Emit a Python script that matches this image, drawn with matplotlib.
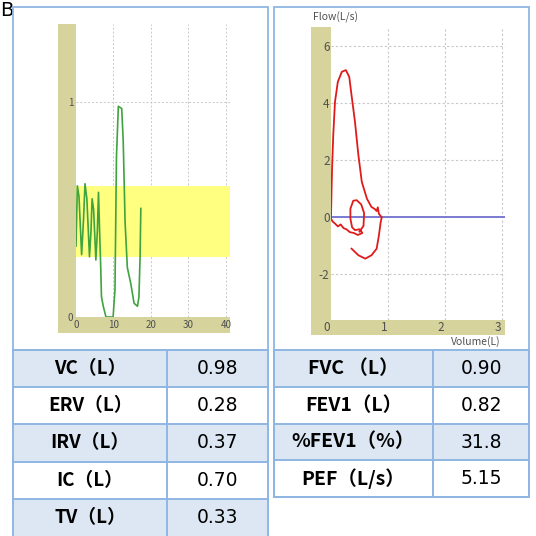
import matplotlib
matplotlib.use("Agg")
import matplotlib.pyplot as plt
from matplotlib.patches import Rectangle
from matplotlib.transforms import ScaledTranslation

# ---------------- data ----------------
# Volume-time trace (left chart)
vt_time = [0.0, 0.36, 0.8, 1.5, 2.0, 2.4, 2.9, 3.6, 4.0, 4.3, 4.7, 5.3, 5.7, 6.0, 6.3, 6.6, 6.8,
           7.3, 8.0, 9.0, 9.9, 10.4, 10.8, 11.3, 12.2, 12.6, 13.1, 13.7, 14.6, 15.5, 16.4, 16.8,
           17.1, 17.3]
vt_volume = [0.33, 0.61, 0.56, 0.29, 0.45, 0.62, 0.55, 0.28, 0.40, 0.55, 0.50, 0.265, 0.40, 0.58,
             0.40, 0.23, 0.094, 0.048, 0.0, 0.0, 0.0, 0.126, 0.745, 0.98, 0.97, 0.82, 0.44, 0.23,
             0.157, 0.064, 0.05, 0.094, 0.28, 0.505]
tidal_band = (0.28, 0.61)          # ERV .. ERV+TV
vt_xticks = [0, 10, 20, 30, 40]
vt_yticks = [0, 1]

# Flow-volume loop (right chart)
fv_volume = [0.50, 0.57, 0.58, 0.53, 0.45, 0.39, 0.34, 0.34, 0.37, 0.42, 0.50, 0.55, 0.47, 0.40,
             0.33, 0.27, 0.22, 0.17, 0.12, 0.07, 0.03, 0.0, 0.0,
             0.01, 0.02, 0.04, 0.07, 0.12, 0.19, 0.26, 0.32, 0.36, 0.42, 0.48, 0.54, 0.63, 0.71,
             0.76, 0.80, 0.82, 0.84, 0.89, 0.87, 0.84, 0.80, 0.71, 0.60, 0.48, 0.36]
fv_flow = [-0.50, -0.30, 0.15, 0.45, 0.60, 0.58, 0.30, -0.05, -0.35, -0.45, -0.42, -0.55, -0.62,
           -0.55, -0.52, -0.42, -0.38, -0.25, -0.32, -0.22, -0.15, -0.05, 0.0,
           1.0, 1.8, 2.9, 4.05, 4.75, 5.1, 5.16, 4.92, 4.28, 3.35, 2.18, 1.24, 0.65, 0.36,
           0.30, 0.22, 0.35, 0.12, 0.0, -0.18, -0.63, -1.1, -1.33, -1.45, -1.33, -1.1]
fv_xticks = [0, 1, 2, 3]
fv_yticks = [-2, 0, 2, 4, 6]

# Tables
left_labels = ["VC（L）", "ERV（L）", "IRV（L）", "IC（L）", "TV（L）"]
left_values = ["0.98", "0.28", "0.37", "0.70", "0.33"]
right_labels = ["FVC （L）", "FEV1（L）", "%FEV1（%）", "PEF（L/s）"]
right_values = ["0.90", "0.82", "31.8", "5.15"]

# ---------------- style ----------------
W = H = 536
OLIVE = "#d6d39c"
BORDER = "#8fb6e3"
ROWBLUE = "#dce7f3"
GRID = "#c8c8c8"
TICKC = "#505050"

plt.rcParams['font.family'] = ['Noto Sans CJK JP', 'DejaVu Sans']
fig = plt.figure(figsize=(W / 100, H / 100), dpi=100)
fig.patch.set_facecolor("white")


def fx(x):
    return x / W


def fy(y):
    return 1 - y / H


def rect_px(x0, y0, x1, y1, **kw):
    r = Rectangle((fx(x0), fy(y1)), (x1 - x0) / W, (y1 - y0) / H,
                  transform=fig.transFigure, **kw)
    fig.add_artist(r)
    return r


def axes_px(x0, y0, x1, y1):
    return fig.add_axes([fx(x0), fy(y1), (x1 - x0) / W, (y1 - y0) / H])


# "B" panel letter
fig.text(fx(0), fy(10), "B", fontsize=14, family="DejaVu Sans", va="center", ha="left")

# panel boxes
rect_px(13, 7, 268, 350, facecolor="none", edgecolor=BORDER, lw=1.3, zorder=5)
rect_px(274, 7, 529, 497, facecolor="none", edgecolor=BORDER, lw=1.3, zorder=5)

# ---------------- left chart ----------------
rect_px(58, 24, 76, 333, facecolor=OLIVE, edgecolor="none", zorder=-1)
rect_px(58, 317, 230, 333, facecolor=OLIVE, edgecolor="none", zorder=-1)
ax1 = axes_px(76, 24, 230, 317)
ax1.set_xlim(0, 41.1)
ax1.set_ylim(0, 1.363)
ax1.axhspan(tidal_band[0], tidal_band[1], color="#ffff80", zorder=1, lw=0)
ax1.plot(vt_time, vt_volume, color="#3fa33f", lw=1.2, zorder=3)
for v in vt_xticks[1:]:
    ax1.axvline(v, color=GRID, lw=0.7, ls=(0, (2, 2)), zorder=0.5)
ax1.axhline(1, color=GRID, lw=0.7, ls=(0, (2, 2)), zorder=0.5)
for s in ax1.spines.values():
    s.set_visible(False)
ax1.set_xticks(vt_xticks)
ax1.set_xticklabels([str(v) for v in vt_xticks])
ax1.set_yticks(vt_yticks)
ax1.set_yticklabels([str(v) for v in vt_yticks])
ax1.tick_params(axis="both", length=0, labelsize=7, labelcolor=TICKC)
ax1.tick_params(axis="x", pad=2)
ax1.tick_params(axis="y", pad=2)
ax1.set_facecolor("white")

# ---------------- right chart ----------------
rect_px(311, 27, 331, 335, facecolor=OLIVE, edgecolor="none", zorder=-1)
rect_px(311, 320, 505, 335, facecolor=OLIVE, edgecolor="none", zorder=-1)
ax2 = axes_px(331, 27, 505, 320)
ax2.set_xlim(0, 3.05)
ax2.set_ylim(-3.6, 6.67)
for v in fv_xticks[1:]:
    ax2.axvline(v, color=GRID, lw=0.8, ls=(0, (2, 2)), zorder=0.5)
for v in fv_yticks:
    ax2.axhline(v, color=GRID, lw=0.8, ls=(0, (2, 2)), zorder=0.5)
ax2.axhline(0, color="#7a7ad2", lw=1.4, zorder=2)
ax2.plot(fv_volume, fv_flow, color="#e01b1b", lw=1.3, zorder=3)
for s in ax2.spines.values():
    s.set_visible(False)
ax2.set_xticks(fv_xticks)
ax2.set_xticklabels([str(v) for v in fv_xticks])
ax2.set_yticks(fv_yticks)
ax2.set_yticklabels([str(v) for v in fv_yticks])
ax2.tick_params(axis="both", length=0, labelsize=8.5, labelcolor=TICKC)
ax2.tick_params(axis="x", pad=1)
ax2.tick_params(axis="y", pad=1)
for lab in ax2.get_xticklabels():
    lab.set_transform(lab.get_transform() + ScaledTranslation(-4 / 100, 0, fig.dpi_scale_trans))
ax2.set_facecolor("white")
fig.text(fx(313), fy(17), "Flow(L/s)", fontsize=7.5, color=TICKC, va="center", ha="left")
fig.text(fx(501), fy(342), "Volume(L)", fontsize=7.5, color=TICKC, va="center", ha="right")


# ---------------- tables ----------------
def draw_table(x0, xm, x1, y0, row_h, labels, values, lab_size, bottom_border=True):
    n = len(labels)
    for i, (lab, val) in enumerate(zip(labels, values)):
        ya = y0 + i * row_h
        yb = ya + row_h
        fc = ROWBLUE if i % 2 == 0 else "white"
        rect_px(x0, ya, x1, yb, facecolor=fc, edgecolor="none", zorder=2)
        fig.text(fx((x0 + xm) / 2), fy((ya + yb) / 2), lab, fontsize=lab_size, fontweight="bold",
                 ha="center", va="center", zorder=4)
        fig.text(fx((xm + x1) / 2), fy((ya + yb) / 2), val, fontsize=13.5, family="DejaVu Sans",
                 ha="center", va="center", zorder=4)
    yend = y0 + n * row_h
    lines = []
    for i in range(n + (1 if bottom_border else 0)):
        yy = y0 + i * row_h
        lines.append(([fx(x0), fx(x1)], [fy(yy), fy(yy)]))
    for xx in (x0, xm, x1):
        lines.append(([fx(xx), fx(xx)], [fy(y0), fy(yend)]))
    for xs, ys in lines:
        fig.add_artist(plt.Line2D(xs, ys, transform=fig.transFigure, color=BORDER, lw=1.4, zorder=5))


draw_table(13, 167, 268, 350, 37.2, left_labels, left_values, 13.5, bottom_border=False)
draw_table(274, 433, 529, 350, 36.8, right_labels, right_values, 14, bottom_border=True)

fig.savefig("out.png", dpi=100, facecolor="white")
